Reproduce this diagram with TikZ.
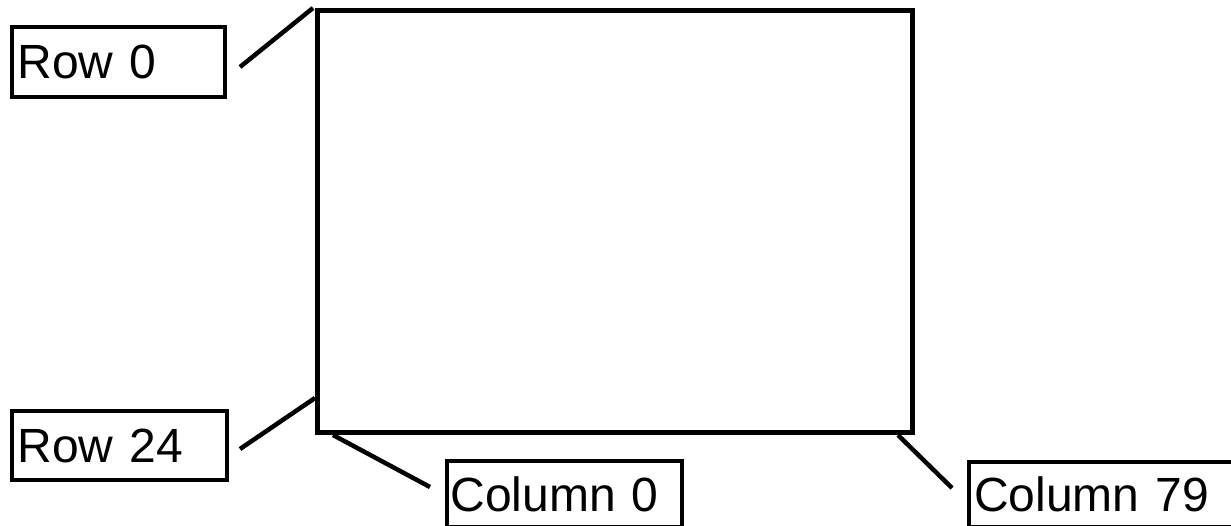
\documentclass[tikz,border=0pt]{standalone}
\usepackage{fontspec}
\setmainfont{Liberation Sans}
\begin{document}
\begin{tikzpicture}[x=1pt,y=-1pt,
  lbl/.style={draw,line width=4pt,anchor=north west,inner sep=0pt,
    font=\fontsize{48}{56}\selectfont,align=left},
  conn/.style={line width=4.5pt}]
\useasboundingbox (0,0) rectangle (1231,525);
\node[draw,line width=5pt,anchor=north west,minimum width=595pt,minimum height=422pt,inner sep=0pt] (screen) at (315,8) {};
\node[lbl,minimum width=213pt,minimum height=70pt,text width=202pt] (r0) at (10,25) {Row 0};
\node[lbl,minimum width=215pt,minimum height=69pt,text width=204pt] (r24) at (10,409) {Row 24};
\node[lbl,minimum width=235pt,minimum height=66pt,text width=228pt] (c0) at (445,459) {Column 0};
\node[lbl,minimum width=275pt,minimum height=65pt,text width=265pt] (c79) at (967,460) {Column 79};
\coordinate (a0) at (240,67);
\coordinate (a24) at (240,449);
\coordinate (b0) at (430,487);
\coordinate (b79) at (952,488);
\draw[conn] (a0) -- ([xshift=-2pt]screen.north west);
\draw[conn] (a24) -- ([yshift=37pt]screen.south west);
\draw[conn] ([xshift=18pt]screen.south west) -- (b0);
\draw[conn] ([xshift=-17pt]screen.south east) -- (b79);
\end{tikzpicture}
\end{document}
